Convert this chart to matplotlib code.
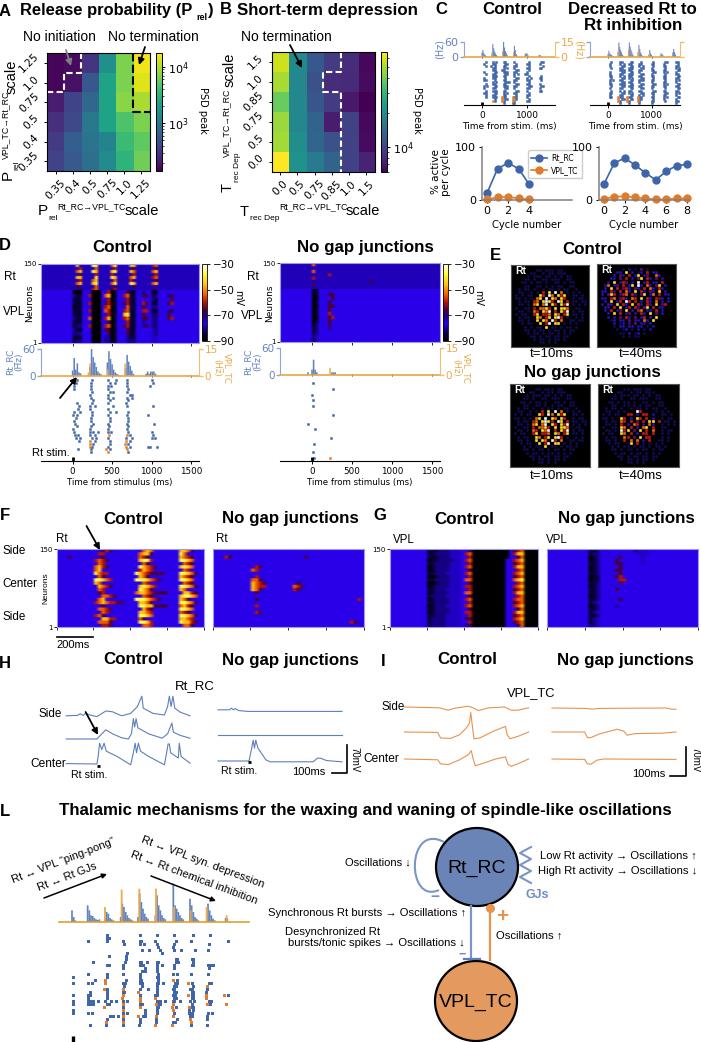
import numpy as np
import matplotlib
matplotlib.use("Agg")
import matplotlib.pyplot as plt
from matplotlib.colors import LogNorm, LinearSegmentedColormap, Normalize
from matplotlib.patches import Ellipse, PathPatch
from matplotlib.path import Path

W, H = 701, 1042
SANS = ['Liberation Sans', 'DejaVu Sans']
BLUE, ORANGE = '#3f65a9', '#e07b2a'
HBLUE, HORANGE = '#6383bf', '#eaa949'

# ---------- Panels A, B ----------
A_ticks = ['0.35', '0.4', '0.5', '0.75', '1.0', '1.25']
A_psd = [[155, 163, 291, 1590, 6800, 15500],
         [155, 180, 522, 2340, 6800, 14050],
         [208, 372, 699, 2340, 7500, 9560],
         [278, 410, 982, 2340, 4620, 6800],
         [337, 605, 891, 1250, 3800, 5340],
         [372, 548, 848, 1445, 3285, 6170]]
B_ticks = ['0.0', '0.5', '0.75', '0.85', '1.0', '1.5']
B_psd = [[57300, 19030, 11780, 9260, 8220, 6300],
         [49800, 18580, 10950, 8220, 8020, 6460],
         [39000, 18580, 11500, 9260, 7110, 6000],
         [47500, 18580, 12970, 7280, 9720, 6300],
         [48600, 19960, 13290, 10950, 9720, 6460],
         [68400, 20930, 16470, 12970, 9720, 7640]]

# ---------- Panel C ----------
C1_rt_t = [0, 20, 40, 60, 80, 100, 220, 240, 260, 280, 300, 320, 340, 460, 480, 500, 520, 540, 560, 580,
           700, 720, 740, 760, 780, 960, 980, 1000, 1020, 1040, 1260, 1280, 1300, 1320]
C1_rt_hz = [18, 28, 16, 10, 6, 4, 10, 51, 35, 22, 14, 8, 4, 20, 60, 38, 24, 16, 8, 4,
            14, 45, 28, 12, 6, 12, 15, 15, 8, 4, 6, 8, 6, 3]
C1_tc_t = [220, 460, 700]
C1_tc_hz = [5, 6, 5]
C2_rt_t = [0, 20, 40, 60, 80, 100, 120, 230, 250, 270, 290, 310, 330, 350, 470, 490, 510, 530, 550, 570, 590,
           690, 710, 730, 750, 770, 790, 940, 960, 980, 1000, 1020, 1200, 1220, 1240, 1260, 1280,
           1490, 1510, 1530, 1550]
C2_rt_hz = [12, 25, 15, 10, 8, 5, 3, 20, 58, 40, 28, 18, 10, 5, 25, 58, 42, 28, 18, 10, 5,
            20, 48, 32, 18, 10, 5, 10, 28, 15, 8, 4, 6, 15, 12, 8, 3, 18, 32, 20, 10]
C2_tc_t = [235, 475, 705, 950]
C2_tc_hz = [5.5, 8, 7, 3]
C1_raster = [
    "  #   # #   ##    #       #      ##",
    " #    ##     ##    #     ##     #  ",
    "  #  # #    ##    ##      #       #",
    "      ##    # #   #      ##     ## ",
    "      ##   ##      ##     #        ",
    " #     ##   ###   ##     #         ",
    "  #   ##     ##   # #   ##         ",
    "      ###   ##    #       #      # ",
    " #    ##     #     ##    # #    ## ",
    " ##    #    ##    ##     ##      # ",
    "      # #    ###  #       #        ",
    "  #   ##    ##     ##    ##     #  ",
    " # #   ##   ###   ##      ##     ##",
    " #    ##     ##   #      ##     #  ",
    "  #   ###   ##     ##    #      ## ",
    " ##    ##   # #   ##      #        ",
    "  #   ##    ##     #     ##        ",
    "  #   ###  o##   o##     #         ",
    "       #   o ##  o #      #        ",
    "      o#   o#    o#      ##        ",
    "            #    ##                "]
C2_raster = [
    "  #    ##    ##    #      #      ##    ## ",
    " #     # #  ##    ##     ##     #       # ",
    " #      ##   ##   # #     #     ##     ## ",
    "  #    ##   ###    ##    #       #     # #",
    "       ###  ##    ##     ##     ##      ##",
    " #      ##   ##   #       ##    # #    #  ",
    " #     ##   ###    ##    #       #     ## ",
    " ##    # #  ##    ##     ##     ##      ##",
    "  #     ##  # #    ##     #     ##     ## ",
    " # #   ##    ##   ###    ##      #     # #",
    " #      ##  ##    #      #      ##     #  ",
    " ##    ###   ##    ##     ##    # #     ##",
    "  #     ##  ###   ##     ##     ##     ## ",
    " #     ##    ##    ##    #       #      ##",
    "  #    # #  ##    ##      ##    ##     ## ",
    " ##     ##  # #    ##    ##      ##    # #",
    " #     ##    ##   # #     #     ##     #  ",
    " ##   o##  o##   o##     ##     # #     ##",
    "      o ## o ##  o##      #     #      #  ",
    "      o#   o#    o#      ##      #     ## ",
    "       #    #     #      #             #  "]
cycles1 = [0, 1, 2, 3, 4]
C1_rt_pct = [13, 59, 70, 59, 30]
C1_tc_pct = [1, 5, 6, 3, 1]
cycles2 = [0, 1, 2, 3, 4, 5, 6, 7, 8]
C2_rt_pct = [30, 70, 79, 66, 51, 38, 54, 65, 67]
C2_tc_pct = [2, 6, 7, 5, 3, 1, 1, 3, 3]

# ---------- Heat map grids: one character per cell ----------
LEVELS = dict(zip("0123456789", [-90, -85, -81, -78, -72, -66, -60, -54, -46, -37]))
D1_rt = [
    "...........8....99....79....88.....67",
    "............6....7.....6.....5......5",
    "...........78...98....89....87.....78",
    "............5....6....6......6......6",
    "...........88....9....98....78.....67",
    "............6...78.....7....6.......5",
    "...........78...89....79....98.....78",
    "...........5.....7.....5.....5.......",
    "............5...67....56...........5."]
D1_vpl = [
    "..........000...000..601...511..4..11",
    "..........211..6000.7801..6711..55.12...45",
    "..........111...000..601...611.....21....5",
    "..........111..6000.5601..5611..65.11...56",
    "..........011...000.6701...711..5..22",
    "..........111..6000.7601..6711..66.11...45",
    "..........111...000..601..8911..5..21...5",
    "..........211..7000.6801..6711..55.22...56",
    "..........111...000..501...611..4..22",
    "..........122..6000.6701..5611..45.22",
    "..........211...000.5501...511.....32",
    "..........222...000..501...511.....32",
    "..........111...000.4401...411.....33",
    "..........122...000.4401...422.....33"]
D2_rt = [
    "..........7",
    ".........",
    "..........7",
    "...............6",
    "..........6",
    "............................5",
    "..........5",
    "........."]
D2_vpl = [
    "..........01",
    "..........01...55",
    "..........00....5",
    "..........01...5",
    "..........00...55",
    "..........01...5",
    "..........01...6",
    "..........00...56",
    "..........01...5",
    "..........02...5",
    "..........12...4",
    "..........12",
    "..........23",
    "..........13"]
F1 = [
    "............565........787.......8875",
    "...........66.........7885.......97",
    "...5........5.........765........8765",
    "..........6765........8996.......9987",
    "...........76..........75.........765",
    "..........7865........98765......8987",
    "..........78..........6876........76",
    "..........9766.......98765555....99875",
    "...........75.........875........8765",
    "..........99876......9998765.....9987",
    "..........87...........76.........765",
    "...........8765.......89876......99875",
    "...........76.........9875.......87",
    "...........56........788765555....8865",
    "............7765.......765.......89987",
    "...........78........9998765.....875",
    "..........67876655....8875.......99875",
    "............5.........99885555...7865",
    "...........7765........865.......9987",
    "............76........8876.......765",
    "..........675.........9987.......99875",
    "............8866......75.........8876",
    "...........7775.......9986.......98865",
    "............665........776........775"]
F2 = [
    "........................",
    "",
    "...65...................5",
    "",
    "..........",
    "...........65",
    "..........76",
    "",
    "...........6",
    "..........775",
    "..........8765........5",
    "..........8766.......765",
    "..........875........65",
    "...........5",
    "",
    "...........5..........................6",
    "",
    "...........6",
    "..........",
    "...........65",
    "",
    "",
    "....................................65",
    ""]
G1 = [
    "..........111222333..50000000000.567000011",
    "..........112222333.670000000000.688000001",
    "..........111222333..60000000000..57000001",
    "..........011222233.67000000000..678000001",
    "..........112222333..6000000000..567000011",
    "..........012222333.67000000000..688000001",
    "..........002222333..5000000000...67000011",
    "..........112223333.67000000000..678000011",
    "..........001222333..6000000000..567000001",
    "..........112222333.77000000000..789000001",
    "..........001222333..5000000000...67000011",
    "..........012222333.66000000000..678000011",
    "..........112223333..6000000000..567000001",
    "..........012222333.77000000000..688000001",
    "..........122223333..5000000000...67000011",
    "..........012222333.67000000000..677000001",
    "..........112222333..6000000000..567000011",
    "..........012223333.67000000000..678000001",
    "..........112222333..5000000000...57000011",
    "..........012222333.66000000000..688000001",
    "..........112223333..6000000000..567000011",
    "..........122223333.55000000000..678000001",
    "..........122223333..6000000000..567000011",
    "..........122223333.45000000000...57000011"]
G2 = [
    "...........112.........2333",
    "...........122..........333",
    "...........012.....5.....3",
    "...........012....5......3",
    "...........112....55.....3",
    "...........012.....5",
    "...........012....55.",
    "...........112.....5",
    "...........011....56",
    "...........011.....66",
    "...........112.....5",
    "...........012",
    "...........112....5",
    "...........112",
    "...........012",
    "...........112.....5",
    "...........123",
    "...........012....4",
    "...........112",
    "...........123",
    "...........112",
    "...........123",
    "...........123",
    "...........223"]

# ---------- Panel D: spike rasters, one list of spike times (ms) per neuron row ----------
D1_rt_spikes = [
    [55, 250, 449, 555, 683, 1000], [47, 237, 471, 534, 691, 1013], [13, 237, 449, 492, 683, 979],
    [13, 237, 449, 704], [250, 471, 513, 683], [216, 449, 746, 725], [237, 449, 513, 683, 746],
    [259, 471, 704], [55, 250, 449, 674], [80, 216, 280, 513, 683, 1013], [68, 225, 449],
    [13, 89, 250, 471, 555, 704], [4, 55, 250, 449, 683, 958], [38, 237, 471, 704],
    [13, 237, 471, 704], [25, 259, 449, 683, 1030], [55, 237, 462, 704], [4, 225, 449, 683],
    [13, 216, 259, 322, 449, 492, 704, 1000], [25, 68, 216, 280, 725, 1022],
    [47, 89, 250, 301, 449, 674, 746, 1000, 1043], [80, 280, 471, 725], [259, 471, 704],
    [250, 449, 725, 958, 979, 1064], [68, 237, 471], [237, 704]]
D1_tc_spikes = {19: [462, 683], 21: [216, 674], 22: [225, 661], 23: [216, 674], 24: [428, 683], 25: [449]}
D2_rt_spikes = {1: [13], 3: [267], 5: [4], 7: [13], 9: [13], 12: [267], 15: [-50], 17: [34], 20: [237],
                22: [21], 25: [13], 27: [25]}
D2_tc_spikes = {27: [225]}
D1_rt_t = [0, 20, 40, 60, 80, 100, 220, 240, 260, 280, 300, 320, 340, 360, 440, 460, 480, 500, 520, 540, 560, 580,
           670, 690, 710, 730, 750, 770, 930, 950, 970, 990, 1010, 1030, 1050]
D1_rt_hz = [12, 40, 14, 28, 8, 6, 20, 60, 42, 30, 20, 10, 6, 4, 30, 55, 38, 26, 14, 8, 5, 3,
            18, 47, 32, 22, 12, 5, 5, 10, 5, 10, 10, 10, 5]
D1_tc_t = [200, 220, 445, 665]
D1_tc_hz = [2, 7, 3.6, 7]
D2_rt_t = [-50, 0, 20, 40, 60, 250, 270, 290]
D2_rt_hz = [6, 12, 34, 12, 6, 6, 6, 6]
D2_tc_t = [225]
D2_tc_hz = [4]

# ---------- Panel E: neuron layout ----------
E_t10 = [
    "                          ",
    "        bb bbb bb         ",
    "      bb  b bb bbb        ",
    "     b bbb bb b b bb      ",
    "    bb b  bb bbb  bb      ",
    "   bb b bb b  bb b bb     ",
    "    bb  bb b b bb  bb     ",
    "  b bb b  b bb b bb  b    ",
    "  bb  b b r y w o b b b   ",
    " b b bb  yr wo yry  bb b  ",
    " bb b b oy w yo yr  b bb  ",
    "  b bb ro ywyr wy r bb bb ",
    "  bb b oy ow yr yrw b b b ",
    " b  bb r ooyr y yyo  bb   ",
    "  bb b or yow r yrw b bb  ",
    " b bb  ry rro yo ry bb b  ",
    "  b bb  yo ry ywr b  b b  ",
    "  bb b  y yo wr o  bb bb  ",
    "   b bb  y rw yy b b b    ",
    "    b b bb y bb b bb b    ",
    "    bb b bb b bb b bb     ",
    "     b bb b bb b b b      ",
    "      bb b bb bb bb       ",
    "       b bb b bb b        ",
    "         bb b b           ",
    "                          "]
E1_t40 = [
    "                          ",
    "        b B b p b         ",
    "      BB y B bB r BB      ",
    "     B pB r By Bp  oB     ",
    "    BB p r B py rB p B    ",
    "   B y Brp B w Br BB r    ",
    "  Bo Bp r By wB oB py B   ",
    "  B y r prB pB r oB rB    ",
    " BB rB r oB y rB pB y B   ",
    " B pyr Bro rB py Bo r BB  ",
    " BB ro prB or y rB rpB B  ",
    "  B y Br wr r B rB o B B  ",
    " B pB y rB y rB rB y pr   ",
    "  BB r y Br rB py r BB    ",
    "  B r Bp y B ro BB r B    ",
    "   B y r Bp B rB y p B    ",
    "   B B p rB p Br B y      ",
    "    bB BB p BB oB y       ",
    "     B bB B p BB B        ",
    "     b BB BB BB b B       ",
    "      b bB b B b B        ",
    "       bb B bB b          ",
    "        b b bb            ",
    "                          ",
    "                          ",
    "                          "]
E2_t40 = [
    "                          ",
    "        bb bbb bb         ",
    "      bb  b bb bbb        ",
    "     b bbb bb b b bb      ",
    "    bb b  bb bbb  bb      ",
    "   bb b bb b  bb b bb     ",
    "    bb  bb b b bb  bb     ",
    "  b bb b  b bb b bb  b    ",
    "  bb  b b   wr    b b b   ",
    " b b bb  rr B rr B  bb b  ",
    " bb b  yr B yr r B  b bb  ",
    "  b bb or r p r yy r bb b ",
    "  bb b r B or B oB  b b b ",
    " b  bb yo r B oy r  bb    ",
    "  bb b wry p y r o  b bb  ",
    " b bb  yo r B rr r  b b   ",
    "  b bb  or p y rr   b b   ",
    "  bb b  r o o B r  bb b   ",
    "   b bb  by r b b b b     ",
    "    b b bb b bb b bb b    ",
    "    bb b bb b bb b bb     ",
    "     b bb b bb b b b      ",
    "      bb b bb bb bb       ",
    "       b bb b bb b        ",
    "         bb b b           ",
    "                          "]
E_COL = {'b': '#120e62', 'B': '#2a14d2', 'p': '#6a0c68', 'r': '#c8181c', 'o': '#f06a12',
         'y': '#ffe326', 'w': '#ffffff'}

# ---------- Panels H, I: membrane traces (ms, mV relative to rest) ----------
H1_side_t = [1, 72, 89, 108, 122, 151, 193, 249, 291, 348, 404, 446, 474, 483, 544, 615, 635, 646, 657, 668, 680, 714, 775]
H1_side_v = [-2, -1, 3, -1, 4, 0, -4, 10, 8, -2, 4, 21, 47, 17, 4, 0, 21, 47, 21, 47, 17, 7, -2]
H1_mid_t = [1, 193, 212, 249, 291, 348, 390, 409, 421, 429, 438, 449, 516, 601, 635, 662, 671, 714, 775]
H1_mid_v = [0, 0, 8, 23, 13, 3, 0, 13, 51, 30, 51, 28, 13, 2, 13, 40, 17, 9, 2]
H1_cen_t = [1, 193, 201, 210, 224, 238, 252, 319, 404, 421, 432, 441, 452, 466, 516, 615, 629, 638, 646, 654, 702, 708, 719, 775]
H1_cen_v = [1, 0, 19, 52, 36, 52, 32, 19, -2, 28, 52, 28, 52, 32, 19, -2, 28, 50, 50, 28, 15, 52, 19, 2]
H2_side_t = [0, 73, 83, 97, 105, 130, 185, 775]
H2_side_v = [3, 3, 7, 3, 6, 1, -1, -1]
H2_mid_t = [0, 775]
H2_mid_v = [0, 0]
H2_cen_t = [0, 194, 208, 220, 228, 236, 250, 299, 326, 594, 622, 642, 679, 775]
H2_cen_v = [0, 0, 27, 52, 32, 52, 32, 3, -2, -2, 7, 7, 1, -2]
I1_side_t = [0, 217, 273, 315, 400, 428, 462, 526, 625, 667, 709, 775]
I1_side_v = [0, -2, -8, -3, 2, -2, -9, -2, 0, -8, -8, -2]
I1_mid_t = [0, 208, 225, 287, 344, 386, 406, 414, 422, 434, 470, 555, 631, 642, 659, 709, 775]
I1_mid_v = [0, -1, -15, -16, -7, 10, 22, 49, 22, -17, -15, 2, 14, -7, -17, -11, 0]
I1_cen_t = [0, 208, 225, 273, 344, 400, 417, 428, 442, 498, 569, 631, 648, 667, 709, 775]
I1_cen_v = [0, -2, -12, -14, -2, 11, 21, 2, -17, -10, 0, 5, -14, -18, -12, 0]
I2_side_t = [0, 210, 252, 294, 717, 745, 775]
I2_side_v = [0, -1, -3, -1, 0, -3, -3]
I2_mid_t = [0, 204, 221, 244, 294, 407, 449, 469, 519, 688, 744, 775]
I2_mid_v = [0, 0, -14, -14, -5, 7, 2, -8, -4, -3, -1, 0]
I2_cen_t = [0, 204, 221, 244, 280, 322, 775]
I2_cen_v = [0, -1, -12, -13, -3, 0, -1]

# ---------- Panel L ----------
L_rt_t = [66, 71, 76, 113, 118, 123, 128, 133, 138, 143, 148, 165, 170, 175, 180, 185, 190,
          212, 217, 222, 227, 232, 237, 242, 247, 264, 269, 274, 279, 284, 289, 294,
          316, 321, 326, 331, 336, 341, 346, 370, 375, 380, 385, 390, 395, 400,
          420, 425, 430, 435, 440, 445, 474, 479, 484, 489, 494, 527, 532]
L_rt_h = [35, 15, 5, 50, 35, 20, 18, 12, 8, 6, 8, 10, 30, 25, 12, 8, 5,
          15, 55, 45, 30, 20, 12, 8, 5, 15, 85, 60, 40, 25, 15, 10,
          20, 80, 50, 35, 20, 12, 8, 115, 50, 40, 30, 20, 12, 8,
          70, 50, 30, 15, 10, 5, 55, 35, 20, 10, 5, 12, 10]
L_tc_t = [165, 215, 268, 318, 372, 422, 470, 530]
L_tc_h = [45, 97, 100, 100, 45, 35, 45, 20]
L_rt_spikes = [
    [172, 270, 320, 372, 428, 480], [172, 176], [115, 172, 220, 270, 274, 316, 378, 422, 535],
    [222, 270, 283, 320, 372, 477], [325, 370], [275, 298, 330, 372, 392, 435, 475], [230, 335],
    [178, 228], [228, 378, 382, 425, 430], [130, 225, 270, 274, 292, 320, 324, 378, 385, 430],
    [172, 176, 218, 270, 280, 320, 337, 372, 425, 430, 475, 480, 490], [218, 285, 320, 372, 478], [275, 285, 320],
    [115, 172, 218, 270, 325, 368, 380, 423, 475], [68, 172, 270, 320, 325], [135, 228, 270, 274, 325, 380],
    [68, 115, 125, 220, 225, 270, 275, 320, 325, 338, 375, 380, 425, 478, 483], [222, 275, 320, 372, 377, 428],
    [170, 270, 293, 320, 368, 373, 420, 425, 470], [120, 170, 218, 222, 320, 372, 377, 425, 430, 468],
    [68, 115, 120, 170, 270, 315, 320, 370, 375, 425, 430, 535], [115, 170, 372, 377, 425, 430],
    [70, 115, 120, 130, 145, 165, 182, 197, 218, 232, 320, 325, 330, 345, 368, 373, 390, 420, 432, 478, 483],
    [68, 115, 120, 130, 170, 178, 270, 275, 325, 330, 425, 480], [218, 320, 325, 378, 425, 430], [70, 285, 320, 418, 430],
    [70, 115, 125, 218, 230, 285, 320, 372, 418, 425, 475, 485], [180, 188, 203, 280, 285, 420, 425, 470],
    [170, 218, 270, 318, 380, 470], [270, 318, 368, 375], [120, 168, 220, 268, 422, 470]]
L_tc_spikes = {15: [165, 370], 16: [165, 415], 17: [470], 18: [162, 218], 19: [265], 20: [218, 415, 468, 522],
               21: [215, 270, 315, 468], 22: [270], 23: [218, 318, 370, 470, 527], 24: [162, 270, 365, 418],
               25: [218, 370], 27: [218, 265, 318, 370], 28: [420], 29: [168, 218, 422], 30: [315, 365]}


# ---------- helpers ----------
fig = plt.figure(figsize=(W / 100, H / 100), dpi=100)


def AX(x0, y0, x1, y1, **kw):
    return fig.add_axes([x0 / W, 1 - y1 / H, (x1 - x0) / W, (y1 - y0) / H], **kw)


def T(x, y, s, size=7.5, ha='center', va='center', family=SANS, **kw):
    return fig.text(x / W, 1 - y / H, s, fontsize=size, ha=ha, va=va, family=family, **kw)


def TITLE(x, y, s, size=12.2):
    T(x, y, s, size=size, weight='bold')


mv_cmap = LinearSegmentedColormap.from_list('mv', [
    (0.0, (0, 0, 0)), (0.10, (10 / 255, 0, 70 / 255)), (0.233, (42 / 255, 0, 235 / 255)),
    (0.30, (25 / 255, 0, 150 / 255)), (0.40, (70 / 255, 0, 60 / 255)), (0.50, (175 / 255, 20 / 255, 10 / 255)),
    (0.60, (238 / 255, 90 / 255, 0)), (0.733, (255 / 255, 190 / 255, 20 / 255)),
    (0.867, (255 / 255, 250 / 255, 60 / 255)), (1.0, (1, 1, 1))])
mv_norm = Normalize(-90, -30)


def decode(rows, bg, ncol):
    a = np.array([[LEVELS.get(c, bg) for c in r.ljust(ncol, '.')[:ncol]] for r in rows], float)
    # repeated rows keep the streaks sharp vertically while the display smooths along time
    return np.repeat(a, 5, axis=0)


def frame(ax, color='#9a9ae6'):
    for s in ax.spines.values():
        s.set_color(color)
        s.set_linewidth(0.8)


def heat_D(rect, rt, vpl):
    ax = AX(*rect)
    ext = (-400, 1600)
    ax.imshow(decode(rt, -78.5, 50), extent=(*ext, 100, 150), aspect='auto', cmap=mv_cmap, norm=mv_norm,
              interpolation='bilinear')
    im = ax.imshow(decode(vpl, -76, 50), extent=(*ext, 1, 100), aspect='auto', cmap=mv_cmap, norm=mv_norm,
                   interpolation='bilinear')
    ax.set_xlim(*ext)
    ax.set_ylim(1, 150)
    ax.set_xticks([0, 500, 1000, 1500])
    ax.set_xticklabels([])
    ax.set_yticks([1, 150])
    ax.set_yticklabels(['1', '150'], fontsize=5)
    ax.tick_params(length=2, width=0.6, pad=1)
    frame(ax)
    return im


def heat_F(rect, rows, ylab=False):
    ax = AX(*rect)
    ax.imshow(decode(rows, -76, 40), extent=(0, 800, 1, 150), aspect='auto', cmap=mv_cmap, norm=mv_norm,
              interpolation='bilinear')
    ax.set_xticks([0, 200, 400, 600, 800])
    ax.set_xticklabels([])
    if ylab:
        ax.set_yticks([1, 150])
        ax.set_yticklabels(['1', '150'], fontsize=5)
    else:
        ax.set_yticks([])
    ax.tick_params(length=2, width=0.6, pad=1)
    frame(ax)
    return ax


def hist(rect, xlim, rt_t, rt_h, tc_t, tc_h, xticks, w=20, size=7.5, left_lab=True, right_lab=True):
    ax = AX(*rect)
    ax.bar(rt_t, rt_h, width=w, color=HBLUE, linewidth=0, snap=False)
    ax.set_xlim(*xlim)
    ax.set_ylim(0, 60)
    ax.set_xticks(xticks)
    ax.set_xticklabels([])
    ax.set_yticks([0, 60])
    ax.set_yticklabels(['0', '60'] if left_lab else [], fontsize=size, color=HBLUE)
    ax.tick_params(axis='y', colors='#8fa6d2', labelcolor=HBLUE, length=3, width=1, pad=1)
    ax.tick_params(axis='x', length=2, width=0.6, direction='inout')
    ax.spines['top'].set_visible(False)
    ax.spines['right'].set_visible(False)
    ax.spines['left'].set_color('#8fa6d2')
    ax.spines['bottom'].set_color('#e8a846')
    ax.spines['bottom'].set_linewidth(1.2)
    tw = ax.twinx()
    tw.bar(tc_t, tc_h, width=w, color=HORANGE, linewidth=0, alpha=0.9, snap=False)
    tw.set_ylim(0, 15)
    tw.set_yticks([0, 15])
    tw.set_yticklabels(['0', '15'] if right_lab else [], fontsize=size, color=HORANGE)
    tw.tick_params(axis='y', colors='#efbe70', labelcolor=HORANGE, length=3, width=1, pad=1)
    for k in ('top', 'left', 'bottom'):
        tw.spines[k].set_visible(False)
    tw.spines['right'].set_color('#efbe70')
    return ax


def raster_axes(rect, xlim, nrow, xticks, xlabel, size=6.5, lsize=6.5):
    ax = AX(*rect)
    ax.set_xlim(*xlim)
    ax.set_ylim(nrow, -0.8)
    ax.set_yticks([])
    ax.set_xticks(xticks)
    ax.tick_params(axis='x', labelsize=size, length=2.5, width=0.7, pad=2)
    ax.xaxis.set_major_formatter(lambda v, p: f'{int(v)}')
    ax.set_xlabel(xlabel, fontsize=lsize, labelpad=1.5)
    for k in ('top', 'left', 'right'):
        ax.spines[k].set_visible(False)
    ax.patch.set_alpha(0)
    return ax


def spikes(ax, rows, color, s=3.2):
    if isinstance(rows, dict):
        items = rows.items()
    else:
        items = enumerate(rows)
    xs, ys = [], []
    for r, ts in items:
        xs += list(ts)
        ys += [r] * len(ts)
    ax.scatter(xs, ys, s=s, marker='s', c=color, linewidths=0, clip_on=False, zorder=3, snap=False)


def grid_raster(ax, rows, dt):
    for ch, col in (('#', BLUE), ('o', ORANGE)):
        xs = [c * dt for r in rows for c, k in enumerate(r) if k == ch]
        ys = [i for i, r in enumerate(rows) for k in r if k == ch]
        ax.scatter(xs, ys, s=3.2, marker='s', c=col, linewidths=0, zorder=3, snap=False)


def stim(ax, nrow):
    ax.plot([0, 0], [nrow - 1.4, nrow], color='k', lw=2, solid_capstyle='butt', clip_on=False, zorder=4)


# ---------- A, B ----------
def psd_panel(rect, crect, vals, labels, vmin, vmax, cticks, ctlabels):
    ax = AX(*rect)
    im = ax.imshow(np.array(vals, float), cmap='viridis', norm=LogNorm(vmin, vmax), aspect='auto')
    ax.set_xticks(range(6))
    ax.set_xticklabels(labels, rotation=45, fontsize=7.6)
    ax.set_yticks(range(6))
    ax.set_yticklabels(labels[::-1], rotation=45, fontsize=7.6, va='center')
    ax.tick_params(length=2.5, width=0.7, pad=2)
    cax = AX(*crect)
    cb = fig.colorbar(im, cax=cax)
    cb.set_ticks(cticks)
    cb.set_ticklabels(ctlabels, fontsize=8)
    cb.ax.tick_params(length=2.5, width=0.7, pad=2)
    cb.ax.tick_params(which='minor', length=1.5, width=0.5)
    cb.outline.set_linewidth(0.7)
    return ax


axA = psd_panel((47, 53, 150, 171), (156, 53, 162, 171), A_psd, A_ticks, 142, 17660, [1e3, 1e4],
                ['$\\mathdefault{10^{3}}$', '$\\mathdefault{10^{4}}$'])
axA.plot([-.5, .5, .5, 1.5, 1.5], [1.5, 1.5, .5, .5, -.5], color='w', lw=1.5, ls=(0, (3, 1.6)), clip_on=False)
axA.plot([4.5, 4.5, 5.5], [-.5, 2.5, 2.5], color='k', lw=1.5, ls=(0, (4, 1.6)), clip_on=False)
axB = psd_panel((271.5, 52, 375, 172), (381, 52, 387, 172), B_psd, B_ticks, 6000, 68400, [1e4],
                ['$\\mathdefault{10^{4}}$'])
axB.plot([3.5, 3.5, 2.5, 2.5, 3.5, 3.5], [-.5, .5, .5, 1.5, 1.5, 5.5], color='w', lw=1.5, ls=(0, (3, 1.6)),
         clip_on=False)

T(5, 11, 'A', 12, weight='bold')
T(20, 11, 'Release probability (P', size=11.9, weight='bold', ha='left')
T(202, 18, 'rel', 6.5, weight='bold')
T(211, 11, ')', 11.9, weight='bold')
T(226, 10, 'B', 12, weight='bold')
TITLE(327, 10, 'Short-term depression')
T(59, 37, 'No initiation', 10)
T(153, 37, 'No termination', 10)
T(286, 37, 'No termination', 10)
T(203, 110, 'PSD peak', 7, rotation=270, family='DejaVu Sans')
T(417, 110, 'PSD peak', 7, rotation=270, family='DejaVu Sans')
T(43, 211, 'P', 11)
T(53, 218, 'rel', 6)
T(91, 207, 'Rt_RC→VPL_TC', 6.3)
T(142, 211, 'scale', 10.5)
T(8, 175, 'P', 11, rotation=90)
T(17, 165, 'rel', 6, rotation=90)
T(6, 125, 'VPL_TC→Rt_RC', 6.3, rotation=90)
T(12, 77, 'scale', 10.5, rotation=90)
T(244, 212, 'T', 10.5)
T(265, 218, 'rec Dep', 6)
T(313, 207, 'Rt_RC→VPL_TC', 6.3)
T(363, 211, 'scale', 10.5)
T(228, 188, 'T', 10.5, rotation=90)
T(237, 167, 'rec Dep', 6, rotation=90)
T(227, 123, 'VPL_TC→Rt_RC', 6.3, rotation=90)
T(230, 70, 'scale', 10.5, rotation=90)

# ---------- C ----------
T(441, 9, 'C', 12, weight='bold')
TITLE(512, 9, 'Control')
TITLE(632, 9, 'Decreased Rt to')
TITLE(633, 26, 'Rt inhibition')
xl1 = (-400, 1622)
xl2 = (-414, 1655)
hist((464, 42, 555, 57), xl1, C1_rt_t, C1_rt_hz, C1_tc_t, C1_tc_hz, [0, 1000], w=24, size=8)
hist((590, 42, 680, 57), xl2, C2_rt_t, C2_rt_hz, C2_tc_t, C2_tc_hz, [0, 1000], w=24, left_lab=False, right_lab=False)
T(440, 49, '(Hz)', 7, rotation=90, color=HBLUE, family='DejaVu Sans')
T(579, 50, '(Hz)', 7, rotation=270, color=HORANGE, family='DejaVu Sans')
r1 = raster_axes((464, 60, 555, 105), xl1, 21, [0, 1000], 'Time from stim. (ms)')
grid_raster(r1, C1_raster, 40)
stim(r1, 21)
r2 = raster_axes((590, 60, 680, 105), xl2, 21, [0, 1000], 'Time from stim. (ms)')
grid_raster(r2, C2_raster, 40)
stim(r2, 21)


def cycle_axes(rect, xlim, cyc, rt, tc, xticks):
    ax = AX(*rect)
    ax.plot(cyc, rt, '-o', color=BLUE, ms=5, lw=1.2, clip_on=False, label='Rt_RC')
    ax.plot(cyc, tc, '-o', color=ORANGE, ms=5, lw=1.2, clip_on=False, label='VPL_TC')
    ax.set_xlim(*xlim)
    ax.set_ylim(0, 100)
    ax.set_xticks(xticks)
    ax.set_yticks([0, 100])
    ax.tick_params(labelsize=8, length=2.5, width=0.7, pad=2)
    ax.set_xlabel('Cycle number', fontsize=7.2, labelpad=3)
    for k in ('top', 'right'):
        ax.spines[k].set_visible(False)
    ax.spines['left'].set_color('#808080')
    ax.spines['left'].set_linewidth(1.1)
    ax.spines['bottom'].set_color('#808080')
    ax.spines['bottom'].set_linewidth(1.1)
    return ax


c1 = cycle_axes((482, 147, 572, 200), (-0.48, 8.09), cycles1, C1_rt_pct, C1_tc_pct, [0, 2, 4])
c2 = cycle_axes((599, 147, 689, 200), (-0.48, 8.2), cycles2, C2_rt_pct, C2_tc_pct, [0, 2, 4, 6, 8])
c1.legend(loc='upper left', bbox_to_anchor=(528 / W, 1 - 150 / H), bbox_transform=fig.transFigure, fontsize=5.5,
          borderpad=0.45, labelspacing=0.45, handlelength=2, handletextpad=0.6, borderaxespad=0, framealpha=1)
T(441, 172, '% active\nper cycle', 7.5, rotation=90, family='DejaVu Sans', linespacing=1.1)

# ---------- D ----------
T(5, 246, 'D', 12, weight='bold')
TITLE(122, 248, 'Control')
TITLE(365, 248, 'No gap junctions')
im1 = heat_D((41, 264, 199, 343), D1_rt, D1_vpl)
im2 = heat_D((280, 263, 440, 342), D2_rt, D2_vpl)
for crect, im in (((202, 264, 207, 341), im1), ((443, 264, 448, 341), im2)):
    cax = AX(*crect)
    cb = fig.colorbar(im, cax=cax)
    cb.set_ticks([-30, -50, -70, -90])
    cb.set_ticklabels(['−30', '−50', '−70', '−90'], fontsize=7.5)
    cb.ax.tick_params(length=2.5, width=0.6, pad=1.5)
    cb.outline.set_linewidth(0.6)
T(238, 298, 'mV', 7, rotation=270, family='DejaVu Sans')
T(478, 298, 'mV', 7, rotation=270, family='DejaVu Sans')
T(10, 277, 'Rt', 8.5)
T(14, 312, 'VPL', 8.5)
T(30, 303, 'Neurons', 6.5, rotation=90, family='DejaVu Sans')
T(253, 277, 'Rt', 8.5)
T(252, 316, 'VPL', 8.5)
T(270, 303, 'Neurons', 6.5, rotation=90, family='DejaVu Sans')
xlD = (-400, 1600)
hist((41, 349, 199, 376), xlD, D1_rt_t, D1_rt_hz, D1_tc_t, D1_tc_hz, [0, 500, 1000, 1500], w=20)
hist((280, 348, 440, 375), xlD, D2_rt_t, D2_rt_hz, D2_tc_t, D2_tc_hz, [0, 500, 1000, 1500], w=20)
T(10, 362, 'Rt_RC', 6.5, rotation=90, color=HBLUE, family='DejaVu Sans')
T(19, 362, '(Hz)', 6.5, rotation=90, color=HBLUE, family='DejaVu Sans')
T(217, 368, '(Hz)', 6.2, rotation=270, color=HORANGE, family='DejaVu Sans')
T(227, 368, 'VPL_TC', 6.2, rotation=270, color=HORANGE, family='DejaVu Sans')
T(248, 362, 'Rt_RC', 6.5, rotation=90, color=HBLUE, family='DejaVu Sans')
T(258, 362, '(Hz)', 6.5, rotation=90, color=HBLUE, family='DejaVu Sans')
T(456, 368, '(Hz)', 6.2, rotation=270, color=HORANGE, family='DejaVu Sans')
T(466, 368, 'VPL_TC', 6.2, rotation=270, color=HORANGE, family='DejaVu Sans')
rd1 = raster_axes((41, 378, 199, 461), xlD, 28, [0, 500, 1000, 1500], 'Time from stimulus (ms)', size=6.3, lsize=6.2)
spikes(rd1, D1_rt_spikes, BLUE)
spikes(rd1, D1_tc_spikes, ORANGE)
stim(rd1, 28)
rd2 = raster_axes((280, 378, 440, 461), xlD, 28, [0, 500, 1000, 1500], 'Time from stimulus (ms)', size=6.3, lsize=6.2)
spikes(rd2, D2_rt_spikes, BLUE)
spikes(rd2, D2_tc_spikes, ORANGE)
stim(rd2, 28)
T(51, 453, 'Rt stim.', 8)

# ---------- E ----------
T(495, 256, 'E', 12, weight='bold')
TITLE(592, 250, 'Control')
TITLE(592, 373, 'No gap junctions')


def neurons(rect, rows):
    ax = AX(*rect)
    ax.set_facecolor('k')
    ax.set_xlim(-0.5, 25.5)
    ax.set_ylim(25.5, -0.5)
    ax.set_xticks([])
    ax.set_yticks([])
    for s in ax.spines.values():
        s.set_color('#555555')
        s.set_linewidth(0.8)
    for ch, col in E_COL.items():
        xs = [c for r in rows for c, k in enumerate(r) if k == ch]
        ys = [i for i, r in enumerate(rows) for k in r if k == ch]
        ax.scatter(xs, ys, s=2.8 if ch in 'bB' else 3.6, marker='s', c=col, linewidths=0, snap=False)
    ax.text(0.05, 0.89, 'Rt', transform=ax.transAxes, color='w', fontsize=7.5, weight='bold', family=SANS)


neurons((511, 265, 589, 347), E_t10)
neurons((597, 264, 676, 347), E1_t40)
neurons((510, 384, 590, 467), E_t10)
neurons((598, 384, 679, 467), E2_t40)
T(552, 354, 't=10ms', 9.5)
T(641, 354, 't=40ms', 9.5)
T(552, 476, 't=10ms', 9.5)
T(641, 476, 't=40ms', 9.5)

# ---------- F, G ----------
T(5, 515, 'F', 12, weight='bold')
TITLE(133, 519, 'Control')
TITLE(290, 519, 'No gap junctions')
T(380, 515, 'G', 12, weight='bold')
TITLE(464, 519, 'Control')
TITLE(626, 519, 'No gap junctions')
heat_F((56.5, 549, 204, 627), F1, True)
heat_F((212.6, 549, 364, 627), F2)
heat_F((389.6, 549, 538, 627), G1, True)
heat_F((547, 549, 698, 627), G2)
T(62, 539, 'Rt', 8.3)
T(222, 539, 'Rt', 8.3)
T(404, 540, 'VPL', 8.3)
T(557, 540, 'VPL', 8.3)
T(14, 551, 'Side', 8.4)
T(20, 584, 'Center', 8.4)
T(14, 617, 'Side', 8.4)
T(46, 588, 'Neurons', 6, rotation=90)
T(73, 645, '200ms', 8)

# ---------- H, I ----------
T(5, 663, 'H', 12, weight='bold')
TITLE(133, 660, 'Control')
TITLE(290, 660, 'No gap junctions')
T(383, 662, 'I', 12, weight='bold')
TITLE(467, 660, 'Control')
TITLE(625, 660, 'No gap junctions')


def traces(x0, lines, offs, color):
    ax = AX(x0, 690, x0 + 124, 790)
    ax.set_xlim(0, 775)
    ax.set_ylim(0, 250)
    ax.axis('off')
    for (t, v), base_px in zip(lines, offs):
        ax.plot(t, np.array(v, float) + (790 - base_px) / 0.4, color=color, lw=0.8, clip_on=False)
    return ax


TR_B, TR_O = '#5d7fbc', '#e8924c'
traces(66, [(H1_side_t, H1_side_v), (H1_mid_t, H1_mid_v), (H1_cen_t, H1_cen_v)], [715, 739, 764], TR_B)
traces(218, [(H2_side_t, H2_side_v), (H2_mid_t, H2_mid_v), (H2_cen_t, H2_cen_v)], [711, 735, 761], TR_B)
traces(404.5, [(I1_side_t, I1_side_v), (I1_mid_t, I1_mid_v), (I1_cen_t, I1_cen_v)], [707, 732, 759], TR_O)
traces(552, [(I2_side_t, I2_side_v), (I2_mid_t, I2_mid_v), (I2_cen_t, I2_cen_v)], [708, 732, 759], TR_O)
T(195, 686, 'Rt_RC', 9.5)
T(50, 714, 'Side', 8.4)
T(48, 764, 'Center', 8.6)
T(89, 775, 'Rt stim.', 7.7)
T(239, 771, 'Rt stim.', 7.7)
T(309, 772, '100ms', 8)
T(354, 760, '70mV', 7, rotation=270)
T(531, 693, 'VPL_TC', 9.3)
T(393, 707, 'Side', 8.4)
T(381, 759, 'Center', 8.6)
T(649, 774, '100ms', 8)
T(695, 760, '70mV', 7, rotation=270)

# ---------- L: histogram and raster ----------
T(5, 811, 'L', 12, weight='bold')
TITLE(365, 810, 'Thalamic mechanisms for the waxing and waning of spindle-like oscillations', 12.2)
xlL = (25.5, 595.8)
lh = AX(58.5, 883, 248.6, 922)
lh.bar(L_rt_t, L_rt_h, width=5.2, color=HBLUE, linewidth=0, snap=False)
lh.bar(L_tc_t, L_tc_h, width=6, color=HORANGE, linewidth=0, alpha=0.9, snap=False)
lh.set_xlim(*xlL)
lh.set_ylim(0, 117)
lh.set_xticks([])
lh.set_yticks([])
for k in ('top', 'left', 'right'):
    lh.spines[k].set_visible(False)
lh.spines['bottom'].set_color('#e0a030')
lh.spines['bottom'].set_linewidth(1.2)
lr = AX(58.5, 933, 248.6, 1036)
lr.set_xlim(*xlL)
lr.set_ylim(33.67, -0.67)
lr.axis('off')
spikes(lr, L_rt_spikes, BLUE, s=4.6)
spikes(lr, L_tc_spikes, ORANGE, s=4.6)

T(63, 861, 'Rt ↔ VPL “ping-pong”', 8, rotation=21)
T(67, 877, 'Rt ↔ Rt GJs', 8, rotation=21)
T(203, 862, 'Rt ↔ VPL syn. depression', 8, rotation=-20.5)
T(194, 878, 'Rt ↔ Rt chemical inhibition', 8, rotation=-20.5)
T(378, 862, 'Oscillations ↓', 8)
T(697, 856, 'Low Rt activity → Oscillations ↑', 8.1, ha='right')
T(697, 871, 'High Rt activity → Oscillations ↓', 8.1, ha='right')
T(466, 913, 'Synchronous Rt bursts → Oscillations ↑', 8.1, ha='right')
T(333, 932, 'Desynchronized Rt', 8.1)
T(465, 943, 'bursts/tonic spikes → Oscillations ↓', 8.1, ha='right')
T(529, 935, 'Oscillations ↑', 8.1)
T(537, 895, 'GJs', 9, weight='bold', color='#6f8cc4')
T(502, 916, '+', 15, weight='bold', color='#e8924c')
T(462, 955, '−', 9, weight='bold', color='#6f8cc4')
T(435, 897, '−', 11, weight='bold', color='#6f8cc4')

# ---------- overlay: annotations in pixel coordinates ----------
ov = AX(0, 0, W, H)
ov.set_xlim(0, W)
ov.set_ylim(H, 0)
ov.axis('off')
ov.patch.set_alpha(0)


def arrow(tail, head, color='k', lw=1.3, ms=9):
    ov.annotate('', xy=head, xytext=tail,
                arrowprops=dict(arrowstyle='-|>', color=color, lw=lw, mutation_scale=ms, shrinkA=0, shrinkB=0))


arrow((66, 50), (71, 66), color='#808080')
arrow((145, 47), (139, 65))
arrow((290, 45), (302, 68))
arrow((60, 398), (77, 377))
arrow((86.5, 526), (100, 550))
arrow((85.6, 712), (98, 735))
arrow((44, 898), (107, 874), lw=1.1, ms=7)
arrow((151, 876), (216, 901), lw=1.1, ms=7)
ov.plot([56.5, 93], [637, 637], color='k', lw=1.2)
ov.plot([332, 347, 347], [773, 773, 745], color='k', lw=1.2)
ov.plot([670, 685.6, 685.6], [776, 776, 747], color='k', lw=1.2)
ov.plot([97, 100], [766, 766], color='k', lw=2, solid_capstyle='butt')
ov.plot([248, 251], [762, 762], color='k', lw=2, solid_capstyle='butt')
ov.plot([73, 73], [1036, 1042], color='k', lw=2.4, solid_capstyle='butt')

ov.add_patch(Ellipse((477, 867), 82, 78, fc='#6b84b8', ec='k', lw=1.6))
ov.add_patch(Ellipse((476, 1001), 82, 80, fc='#e49a5f', ec='k', lw=1.6))
ov.text(477, 868, 'Rt_RC', fontsize=14, ha='center', va='center', family=SANS)
ov.text(476, 1002, 'VPL_TC', fontsize=14, ha='center', va='center', family=SANS)
ov.add_patch(PathPatch(Path([(444, 842), (406, 822), (406, 905), (439, 890)],
                            [Path.MOVETO, Path.CURVE4, Path.CURVE4, Path.CURVE4]),
                       fc='none', ec='#7b95c6', lw=1.5, zorder=1))
ov.plot([531, 520, 531, 520, 531, 520, 531], [847, 853, 859, 865, 871, 877, 883], color='#7b95c6', lw=1.5)
ov.plot([471, 471], [906, 959], color='#7b95c6', lw=1.6, zorder=1)
ov.plot([464, 480], [959, 959], color='#5f7cb4', lw=1.6, zorder=1)
ov.plot([490, 490], [908, 960], color='#e8924c', lw=1.6, zorder=1)
ov.plot([490], [908], 'o', color='#e8924c', ms=5.5)

fig.savefig('out.png', dpi=100)
